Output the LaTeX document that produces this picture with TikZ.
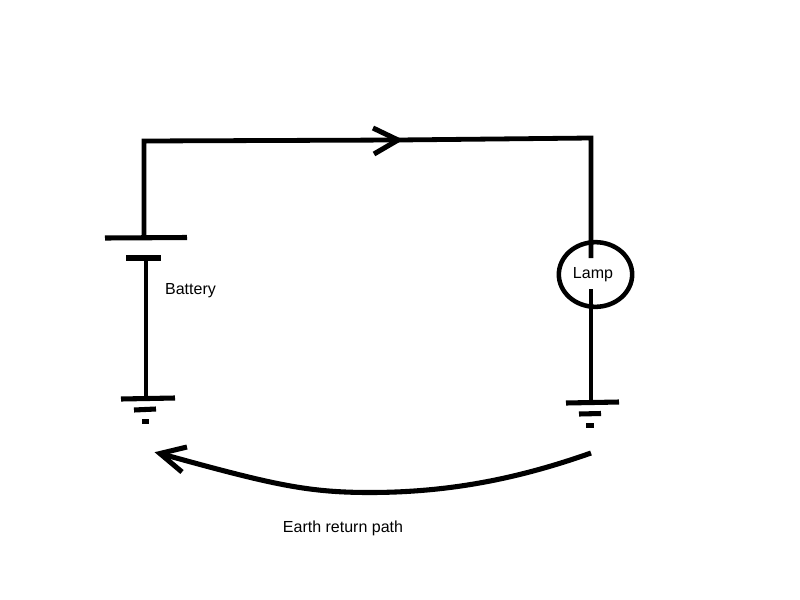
\documentclass[tikz,border=0pt]{standalone}
\usepackage{fontspec}
\setmainfont{Liberation Sans}
\usetikzlibrary{shapes.geometric}
\tikzset{
  px/.style={x=0.75pt,y=-0.75pt},
  wire/.style={line width=3.6pt,black,line cap=butt,line join=miter},
  bar/.style={line width=3.8pt,black,line cap=butt},
  lbl/.style={font=\fontsize{12pt}{14pt}\selectfont,inner sep=0pt,text=black}
}
\begin{document}
\begin{tikzpicture}[px]
\useasboundingbox (0,0) rectangle (800,600);
\fill[white] (0,0) rectangle (800,600);
\coordinate (tl) at (144,141);
\coordinate (tm) at (398,140);
\coordinate (tr) at (591,138);
\coordinate (bp) at (144,238);
\coordinate (bn) at (146,258);
\coordinate (gl) at (146,399);
\coordinate (gr) at (591,403);
\coordinate (lt) at (591,258);
\coordinate (lb) at (591,289);
\node[draw=black,line width=3.4pt,ellipse,minimum width=55pt,minimum height=48.5pt,inner sep=0pt] (lamp) at (595.5,274.5) {};
\node[lbl] (lamplbl) at (593,275) {Lamp};
\node[lbl] (batt) at (190.5,291) {Battery};
\node[lbl] (earth) at (343,528) {Earth return path};
\coordinate (ea) at (591,453);
\coordinate (eb) at (160,453.5);
\coordinate (em) at (365,492.5);
% wires
\draw[wire] (bp) -- (tl) -- (tm) -- (tr) -- (lt);
\draw[wire] (lb) -- (gr);
\draw[wire] (bn) -- (gl);
\draw[bar] (105,238) -- (187,237.5);
\draw[bar] (126,258) -- (161,258);
\draw[bar] (121,399) -- (175,398);
\draw[bar] (134,410) -- (156,409);
\draw[bar] (142,421.5) -- (149,421.5);
\draw[bar] (566,403) -- (619,402);
\draw[bar] (579,414) -- (601,413.5);
\draw[bar] (586,425.5) -- (594,425.5);
% arrow heads
\draw[bar] (373,128) -- (tm) -- (374,154);
\draw[bar] (ea) .. controls (520,478) and (450,493) .. (em) .. controls (305,492) and (270,484) .. (eb);
\draw[bar] (187,447) -- (eb) -- (182,472);
\end{tikzpicture}
\end{document}
